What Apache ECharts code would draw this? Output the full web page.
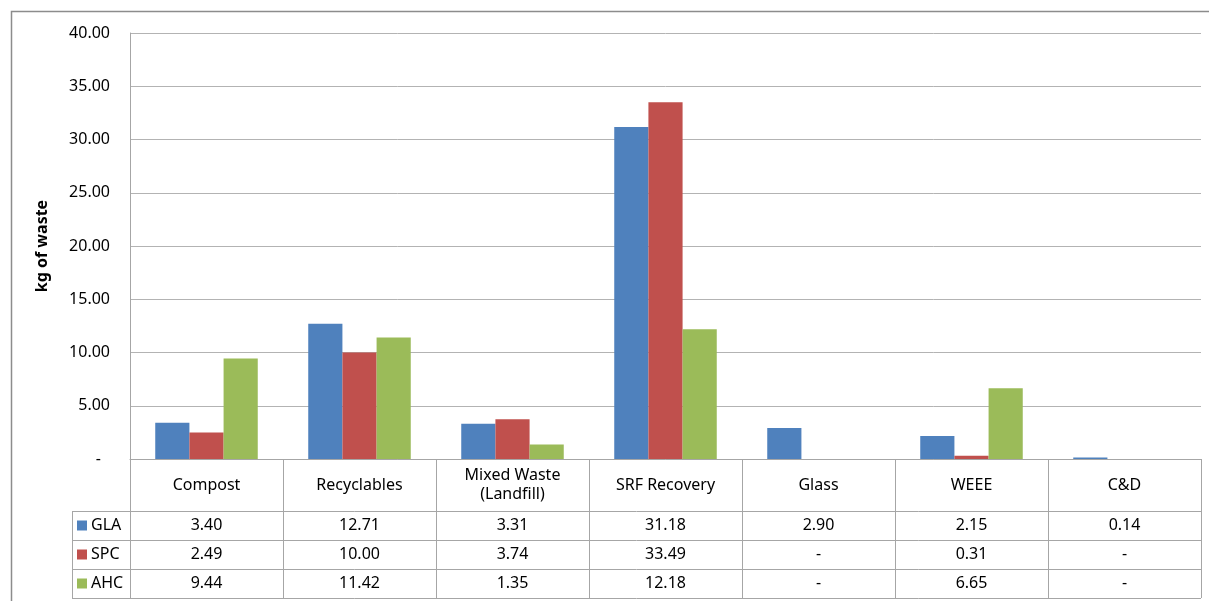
<!DOCTYPE html>
<html><head><meta charset="utf-8">
<script src="https://cdn.jsdelivr.net/npm/echarts@6/dist/echarts.min.js"></script>
<style>html,body{margin:0;padding:0;background:#fff}#c{width:1209px;height:601px}</style>
</head><body><div id="c"></div>
<script>
const categories = ['Compost', 'Recyclables', 'Mixed Waste\n(Landfill)', 'SRF Recovery', 'Glass', 'WEEE', 'C&D'];
const seriesNames = ['GLA', 'SPC', 'AHC'];
const GLA = [3.40, 12.71, 3.31, 31.18, 2.90, 2.15, 0.14];
const SPC = [2.49, 10.00, 3.74, 33.49, 0, 0.31, 0];
const AHC = [9.44, 11.42, 1.35, 12.18, 0, 6.65, 0];
const yTicks = [0, 5, 10, 15, 20, 25, 30, 35, 40];
const yAxisName = 'kg of waste';

const colors = ['#4F81BD', '#C0504D', '#9BBB59'];
const values = [GLA, SPC, AHC];
const FONT = 'Noto Sans';
const FS = 16;
const fmt = v => v === 0 ? '-' : v.toFixed(2);

const chart = echarts.init(document.getElementById('c'));
const option = {
  animation: false,
  textStyle: { fontFamily: FONT },
  grid: { left: 130, right: 8, top: 33, bottom: 142, containLabel: false },
  xAxis: {
    type: 'category', data: categories,
    axisLine: { show: true, lineStyle: { color: '#a6a6a6' } },
    axisTick: { show: false }, axisLabel: { show: false }
  },
  yAxis: {
    type: 'value', min: yTicks[0], max: yTicks[yTicks.length - 1], interval: yTicks[1] - yTicks[0],
    name: yAxisName, nameLocation: 'middle', nameGap: 80, nameRotate: 90,
    nameTextStyle: { fontFamily: FONT, fontWeight: 'bold', fontSize: FS, color: '#000' },
    axisLine: { show: true, lineStyle: { color: '#a6a6a6' } },
    axisTick: { show: false },
    axisLabel: { margin: 20, fontSize: FS, color: '#000', fontFamily: FONT,
      formatter: v => v === 0 ? '-\u2007' : v.toFixed(2) },
    splitLine: { lineStyle: { color: '#b3b3b3' } }
  },
  series: seriesNames.map((n, i) => ({
    name: n, type: 'bar', data: values[i], barGap: '0%', barCategoryGap: '33%',
    itemStyle: { color: colors[i] }
  }))
};
chart.setOption(option);

// Data table drawn beneath the plot using the axis scale positions
const c0 = chart.convertToPixel({ xAxisIndex: 0 }, 0);
const c1 = chart.convertToPixel({ xAxisIndex: 0 }, 1);
const band = c1 - c0;
const y0 = chart.convertToPixel({ yAxisIndex: 0 }, 0);
const leftX = c0 - band / 2;
const rightX = chart.convertToPixel({ xAxisIndex: 0 }, categories.length - 1) + band / 2;
const catRowH = 52, rowH = 29, legendLeft = 72;
const rowTops = [y0 + catRowH, y0 + catRowH + rowH, y0 + catRowH + 2 * rowH];
const tableBottom = y0 + catRowH + 3 * rowH;
const lineStyle = { stroke: '#a6a6a6', lineWidth: 1 };
const g = [];
// outer frame
g.push({ type: 'rect', shape: { x: 11.5, y: 11.5, width: 1220, height: 620 }, style: { fill: null, stroke: '#8c8c8c', lineWidth: 1.5 }, silent: true });
// vertical lines
for (let i = 0; i <= categories.length; i++) {
  const x = Math.round(leftX + i * band) + 0.5;
  g.push({ type: 'line', shape: { x1: x, y1: y0, x2: x, y2: tableBottom }, style: lineStyle });
}
g.push({ type: 'line', shape: { x1: legendLeft + 0.5, y1: rowTops[0], x2: legendLeft + 0.5, y2: tableBottom }, style: lineStyle });
// horizontal lines
[rowTops[0], rowTops[1], rowTops[2], tableBottom].forEach(y => {
  const yy = Math.round(y) + 0.5;
  g.push({ type: 'line', shape: { x1: legendLeft, y1: yy, x2: rightX, y2: yy }, style: lineStyle });
});
// category labels and values
categories.forEach((cat, i) => {
  const cx = chart.convertToPixel({ xAxisIndex: 0 }, i);
  g.push({ type: 'text', x: cx, y: y0 + catRowH / 2, style: { text: cat, fontFamily: FONT, fontSize: FS, fill: '#000', align: 'center', verticalAlign: 'middle', lineHeight: 19 } });
  values.forEach((arr, s) => {
    g.push({ type: 'text', x: cx, y: rowTops[s] + rowH / 2, style: { text: fmt(arr[i]), fontFamily: FONT, fontSize: FS, fill: '#000', align: 'center', verticalAlign: 'middle' } });
  });
});
// legend keys
seriesNames.forEach((n, s) => {
  const cy = rowTops[s] + rowH / 2;
  g.push({ type: 'rect', shape: { x: 77, y: cy - 5, width: 10, height: 10 }, style: { fill: colors[s] } });
  g.push({ type: 'text', x: 91, y: cy, style: { text: n, fontFamily: FONT, fontSize: FS, fill: '#000', align: 'left', verticalAlign: 'middle' } });
});
chart.setOption({ graphic: g });
</script></body></html>
